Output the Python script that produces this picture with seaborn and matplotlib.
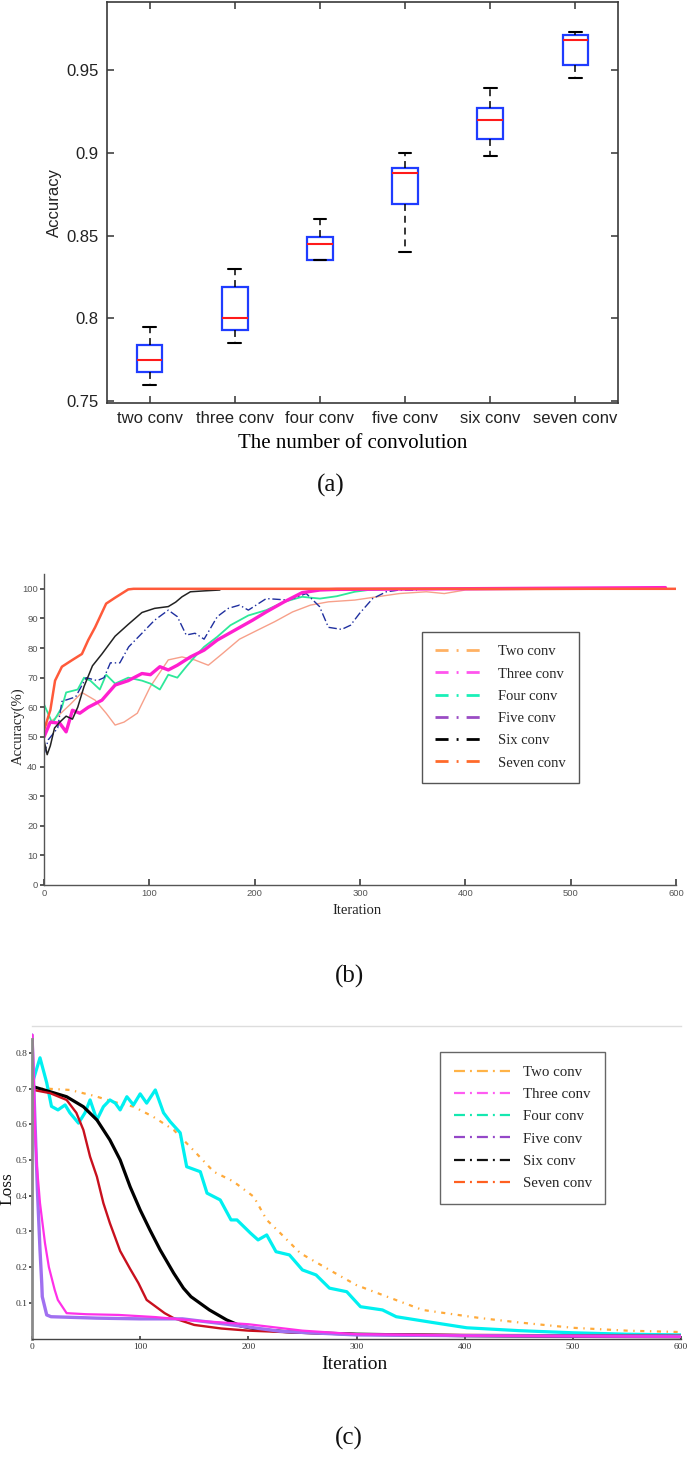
"""
Accuracy box plot (a), training accuracy curves (b) and loss curves (c)
for networks with two to seven convolution layers.
"""

import numpy as np
import pandas as pd
import matplotlib
matplotlib.use('Agg')
import matplotlib.pyplot as plt
from matplotlib.lines import Line2D
import seaborn as sns

# ---------------- panel (a): five-number summaries
CONV_NAMES = ['two conv', 'three conv', 'four conv', 'five conv', 'six conv', 'seven conv']
BOX_LOW = [0.760, 0.785, 0.835, 0.840, 0.898, 0.945]
BOX_Q1 = [0.768, 0.793, 0.835, 0.869, 0.9085, 0.9527]
BOX_MED = [0.775, 0.800, 0.845, 0.888, 0.920, 0.968]
BOX_Q3 = [0.784, 0.819, 0.849, 0.891, 0.927, 0.971]
BOX_HIGH = [0.795, 0.830, 0.860, 0.900, 0.939, 0.973]
ACC_TICKS = [0.75, 0.8, 0.85, 0.9, 0.95]
ACC_TICK_LABELS = ['0.75', '0.8', '0.85', '0.9', '0.95']

# ---------------- legend entries shared by (b) and (c)
LEGEND_LABELS = ['Two conv', 'Three conv', 'Four conv', 'Five conv', 'Six conv', 'Seven conv']
LEGEND_COLORS_B = ['#ffb163', '#ff55ee', '#19f0b8', '#9a4cc4', '#000000', '#ff6a2a']
LEGEND_COLORS_C = ['#ffb347', '#ff5cf2', '#15e8b0', '#9447c8', '#111111', '#ff6020']

ITER_TICKS = [0, 100, 200, 300, 400, 500, 600]

# ---------------- panel (b): accuracy (%) vs iteration
B_SALMON_X = [0, 13, 25, 36, 48.5, 59, 67.5, 76, 88.6, 101, 118, 131, 143, 156, 169, 185.6,
              202.5, 219, 236, 253, 270, 295, 316, 337.5, 363, 380, 400, 600]
B_SALMON_Y = [53.4, 57, 61, 65, 62.4, 58, 54, 55, 58, 67, 76, 77, 76, 74.2, 78, 83,
              86, 88.9, 92.2, 94.5, 95.6, 96.2, 97.3, 98.4, 99, 98.4, 99.6, 100]

B_MAGENTA_X = [0, 6, 15, 21, 27, 34, 42, 55, 67.5, 80, 93, 101, 110, 118, 126.6, 139, 152,
               164.5, 181, 198, 211, 228, 245, 262, 278, 590]
B_MAGENTA_Y = [50, 55, 54.6, 51.7, 59, 58, 60, 62.4, 67.5, 69, 71.4, 71, 73.7, 72.6, 74.2, 77,
               79.3, 82.7, 86, 89.4, 92.2, 95.6, 98.7, 99.6, 99.8, 100.4]

B_GREEN_X = [0, 8, 17, 21, 32, 38, 44, 53, 59, 67.5, 80, 93, 101, 110, 118, 126.6, 135, 143,
             152, 164.5, 177, 194, 211, 228, 245, 262, 278, 295, 308, 321]
B_GREEN_Y = [61, 54.6, 60, 65, 66, 70, 69, 66, 71, 68, 70, 69, 68, 66, 71, 70, 73.7, 77,
             80.4, 83.8, 87.7, 91, 92.8, 95.6, 97.3, 96.7, 97.5, 99, 99.6, 99.8]

B_BLUE_X = [0, 4, 13, 17, 30, 40, 50.6, 57, 63, 72, 80.4, 93, 105, 118, 126.6, 135, 143.4,
            152, 164.5, 175, 185.6, 194, 211, 232, 249, 261.6, 270, 282.6, 291, 299.6, 312,
            325, 337.5, 354]
B_BLUE_Y = [44, 49, 53, 62, 63.5, 70, 69, 70, 75, 75, 80.4, 85, 89.4, 92.8, 90.6, 84.4, 85,
            83, 90.6, 93.4, 94.5, 92.8, 96.7, 96.2, 98.4, 94, 87, 86.3, 87.7, 91.7, 96.7,
            99, 99.6, 99.6]

B_BLACK_X = [0, 3, 6, 10, 15, 21, 27, 32, 38, 46, 55, 67.5, 80, 93, 105, 118, 125, 131,
             139, 152, 167]
B_BLACK_Y = [49, 44, 47, 53, 55, 57, 56, 60, 67, 74, 78, 84, 88, 92, 93.4, 94, 95.5, 97.3,
             99, 99.3, 99.6]

B_RED_X = [0, 6, 10.5, 17, 27, 36, 42, 48.5, 59, 67.5, 80, 85, 600]
B_RED_Y = [52.3, 59, 69, 73.7, 76, 78, 82.7, 87, 95, 97, 99.8, 100, 100]

# ---------------- panel (c): loss vs iteration
C_ORANGE_X = [0, 16.7, 35, 58, 75, 94, 112, 131, 149, 168, 186, 205, 217, 226.6, 248, 275,
              299.6, 316, 340.7, 361, 382, 415, 450, 500, 550, 600]
C_ORANGE_Y = [0.70, 0.699, 0.696, 0.679, 0.663, 0.649, 0.621, 0.584, 0.528, 0.467, 0.44,
              0.397, 0.332, 0.304, 0.239, 0.192, 0.15, 0.131, 0.103, 0.08, 0.071, 0.057,
              0.045, 0.03, 0.022, 0.018]

C_CYAN_X = [0, 1.2, 7.4, 13.6, 18, 24, 30.6, 35, 43, 49, 53.7, 60, 66, 72, 77, 81.5, 87.7,
            93.8, 100, 106, 114, 121.6, 127.8, 137, 143, 155.6, 161.8, 174, 184, 189.5, 202,
            209, 217, 225.6, 238, 250, 262.6, 275, 291, 303.7, 324, 336.7, 370, 402, 450,
            500, 550, 600]
C_CYAN_Y = [0.70, 0.724, 0.786, 0.716, 0.65, 0.64, 0.654, 0.632, 0.603, 0.632, 0.668, 0.612,
            0.649, 0.668, 0.659, 0.64, 0.677, 0.654, 0.685, 0.659, 0.696, 0.632, 0.607, 0.576,
            0.481, 0.467, 0.407, 0.388, 0.332, 0.332, 0.295, 0.276, 0.29, 0.243, 0.234,
            0.192, 0.178, 0.141, 0.131, 0.089, 0.08, 0.061, 0.045, 0.03, 0.022, 0.016,
            0.012, 0.01]

C_BLACK_X = [0, 1.2, 16.7, 32, 47.5, 60, 72, 81.5, 90.7, 100, 109, 118.5, 131, 140, 147,
             164, 180, 193, 210, 240, 300, 400, 500, 600]
C_BLACK_Y = [0.70, 0.705, 0.691, 0.677, 0.649, 0.612, 0.556, 0.5, 0.425, 0.36, 0.304, 0.248,
             0.183, 0.141, 0.117, 0.08, 0.052, 0.035, 0.025, 0.018, 0.012, 0.008, 0.006, 0.005]

C_RED_X = [0, 1.2, 16.7, 32, 41, 47.5, 53.7, 60, 66, 72, 81.5, 90.7, 98.4, 106, 122.6, 131,
           150, 175, 200, 250, 300, 400, 600]
C_RED_Y = [0.69, 0.696, 0.687, 0.668, 0.632, 0.584, 0.509, 0.453, 0.379, 0.323, 0.245, 0.195,
           0.155, 0.108, 0.071, 0.057, 0.038, 0.028, 0.022, 0.016, 0.012, 0.01, 0.008]

C_MAGENTA_X = [0.5, 1.5, 2.8, 4.3, 7.4, 12, 15.6, 21, 23.9, 32, 50, 80, 114, 150, 200, 250,
               300, 400, 500, 600]
C_MAGENTA_Y = [0.85, 0.75, 0.584, 0.491, 0.379, 0.267, 0.2, 0.136, 0.108, 0.071, 0.068,
               0.066, 0.06, 0.05, 0.04, 0.022, 0.012, 0.008, 0.006, 0.005]

C_PURPLE_X = [0, 0.6, 2.8, 5, 7.4, 9, 9.5, 13.6, 17.6, 60, 100, 139, 180, 230, 300, 400, 600]
C_PURPLE_Y = [0.85, 0.8, 0.603, 0.416, 0.248, 0.155, 0.117, 0.066, 0.061, 0.057, 0.055,
              0.055, 0.04, 0.02, 0.01, 0.008, 0.006]

SERIF = ['Liberation Serif', 'DejaVu Serif']
SANS = ['Liberation Sans', 'DejaVu Sans']
NARROW = ['Liberation Sans Narrow', 'Liberation Sans', 'DejaVu Sans']

sns.set_theme(style='ticks')
plt.rcParams['font.family'] = SANS
plt.rcParams['lines.scale_dashes'] = False

W, H = 691, 1458
fig = plt.figure(figsize=(W / 100, H / 100), dpi=100)


def px_axes(left, top, right, bottom):
    """axes rectangle from pixel edges (origin top-left)"""
    return fig.add_axes([left / W, 1 - bottom / H, (right - left) / W, (bottom - top) / H])


def style_ticklabels(ax, family, size, color):
    for lbl in ax.get_xticklabels() + ax.get_yticklabels():
        lbl.set_fontfamily(family)
        lbl.set_fontsize(size)
        lbl.set_color(color)


# ======================= (a) box plot
ax_a = px_axes(107, 2, 618, 403)
box_df = pd.DataFrame({
    'conv': np.repeat(CONV_NAMES, 5),
    'acc': np.column_stack([BOX_LOW, BOX_Q1, BOX_MED, BOX_Q3, BOX_HIGH]).ravel(),
})
sns.boxplot(data=box_df, x='conv', y='acc', order=CONV_NAMES, ax=ax_a,
            width=0.3, whis=(0, 100), showfliers=False,
            color='white', linecolor='#1f3cff', linewidth=1.6,
            medianprops=dict(color='#ff1a1a', linewidth=1.5),
            whiskerprops=dict(color='black', linewidth=1.1, linestyle=(0, (5, 3.5))),
            capprops=dict(color='black', linewidth=1.5))
ax_a.set_xlim(-0.5, 5.5)
ax_a.set_ylim(0.749, 0.991)
ax_a.set_yticks(ACC_TICKS)
ax_a.set_yticklabels(ACC_TICK_LABELS)
ax_a.tick_params(direction='in', top=True, right=True, length=5, width=1.1,
                 color='#333333', pad=6)
for sp in ax_a.spines.values():
    sp.set_visible(True)
    sp.set_color('#3a3a3a')
    sp.set_linewidth(1.2)
style_ticklabels(ax_a, SANS, 12, '#222222')
ax_a.set_xlabel('The number of convolution', fontfamily=SERIF, fontsize=15, color='black')
ax_a.xaxis.set_label_coords(0.48, -0.078)
ax_a.set_ylabel('Accuracy', fontfamily=SANS, fontsize=12, color='#222222')
ax_a.yaxis.set_label_coords(-0.088, 0.5)

# ======================= (b) accuracy curves
ax_b = px_axes(44, 574, 676, 885)
b_series = [
    (B_SALMON_X, B_SALMON_Y, '#f7a08a', 1.0, '-'),
    (B_GREEN_X, B_GREEN_Y, '#2ee89a', 1.3, '-'),
    (B_BLUE_X, B_BLUE_Y, '#1f2f9f', 1.0, (0, (6, 2, 1, 2))),
    (B_MAGENTA_X, B_MAGENTA_Y, '#ff1fcf', 2.4, '-'),
    (B_BLACK_X, B_BLACK_Y, '#222222', 1.1, '-'),
    (B_RED_X, B_RED_Y, '#ff5a3a', 1.8, '-'),
]
for xs, ys, col, lw, ls in b_series:
    sns.lineplot(x=xs, y=ys, ax=ax_b, color=col, linewidth=lw, linestyle=ls,
                 estimator=None, sort=False, legend=False)
ax_b.set_xlim(0, 600)
ax_b.set_ylim(0, 105)
ax_b.set_xticks(ITER_TICKS)
ax_b.set_yticks(range(0, 101, 10))
ax_b.tick_params(axis='x', direction='in', length=4, pad=3, color='#444444')
ax_b.tick_params(axis='y', direction='out', length=3, pad=1.5, color='#444444')
ax_b.spines['top'].set_visible(False)
ax_b.spines['right'].set_visible(False)
for side in ['left', 'bottom']:
    ax_b.spines[side].set_color('#555555')
    ax_b.spines[side].set_linewidth(1.0)
style_ticklabels(ax_b, NARROW, 6.8, '#555555')
ax_b.set_xlabel('Iteration', fontfamily=SERIF, fontsize=10.5, color='#222222')
ax_b.xaxis.set_label_coords(0.495, -0.062)
ax_b.set_ylabel('Accuracy(%)', fontfamily=SERIF, fontsize=10.5, color='#222222')
ax_b.yaxis.set_label_coords(-0.03, 0.51)

handles_b = [Line2D([], [], color=c, linewidth=2.0, linestyle=(0, (9.4, 5.8, 1.4, 5.8)))
             for c in LEGEND_COLORS_B]
leg_b = ax_b.legend(handles_b, LEGEND_LABELS, loc='upper left', bbox_to_anchor=(0.598, 0.8135),
                    borderaxespad=0, fancybox=False, framealpha=1, edgecolor='#555555',
                    prop=dict(family=SERIF, size=10.5), handlelength=3.3, handletextpad=1.0,
                    labelspacing=0.62, borderpad=0.9)
leg_b.get_frame().set_linewidth(1.0)

# ======================= (c) loss curves
ax_c = px_axes(32, 1026, 681, 1338.5)
c_series = [
    (C_ORANGE_X, C_ORANGE_Y, '#ffaa3a', 1.6, (0, (3, 4, 1, 4))),
    (C_CYAN_X, C_CYAN_Y, '#00f0f0', 2.3, '-'),
    (C_BLACK_X, C_BLACK_Y, '#000000', 2.3, '-'),
    (C_RED_X, C_RED_Y, '#c8101e', 1.7, '-'),
    (C_PURPLE_X, C_PURPLE_Y, '#a070f0', 2.4, '-'),
    (C_MAGENTA_X, C_MAGENTA_Y, '#ff30e8', 1.6, '-'),
]
for xs, ys, col, lw, ls in c_series:
    sns.lineplot(x=xs, y=ys, ax=ax_c, color=col, linewidth=lw, linestyle=ls,
                 estimator=None, sort=False, legend=False)
ax_c.set_xlim(0, 600)
ax_c.set_ylim(0, 0.875)
ax_c.set_xticks(ITER_TICKS)
ax_c.set_yticks([0.1, 0.2, 0.3, 0.4, 0.5, 0.6, 0.7, 0.8])
ax_c.set_yticklabels(['0.1', '0.2', '0.3', '0.4', '0.5', '0.6', '0.7', '0.8'])
ax_c.tick_params(axis='x', direction='in', length=2, pad=3, color='#444444')
ax_c.tick_params(axis='y', direction='out', length=2.5, pad=1, color='#444444')
ax_c.spines['right'].set_visible(False)
ax_c.spines['top'].set_color('#dddddd')
ax_c.spines['top'].set_linewidth(1.0)
ax_c.spines['left'].set_color('#8a8a8a')
ax_c.spines['left'].set_linewidth(2.0)
ax_c.spines['left'].set_bounds(0, 0.84)
ax_c.spines['bottom'].set_color('#444444')
ax_c.spines['bottom'].set_linewidth(1.0)
style_ticklabels(ax_c, SERIF, 6.8, '#333333')
ax_c.set_xlabel('Iteration', fontfamily=SERIF, fontsize=14, color='#111111')
ax_c.xaxis.set_label_coords(0.496, -0.056)
ax_c.set_ylabel('Loss', fontfamily=SERIF, fontsize=12.5, color='#111111')
ax_c.yaxis.set_label_coords(-0.025, 0.48)

handles_c = [Line2D([], [], color=c, linewidth=1.6, linestyle=(0, (7.9, 3.6, 1.4, 3.6)))
             for c in LEGEND_COLORS_C]
leg_c = ax_c.legend(handles_c, LEGEND_LABELS, loc='upper left', bbox_to_anchor=(0.629, 0.917),
                    borderaxespad=0, fancybox=False, framealpha=1, edgecolor='#666666',
                    prop=dict(family=SERIF, size=10.7), handlelength=3.8, handletextpad=0.85,
                    labelspacing=0.6, borderpad=0.9)
leg_c.get_frame().set_linewidth(1.0)

# ======================= panel captions
for label, (cx, cy) in zip(['(a)', '(b)', '(c)'], [(331, 485), (349, 976), (349, 1438)]):
    fig.text(cx / W, 1 - cy / H, label, ha='center', va='center',
             fontfamily=SERIF, fontsize=18, color='#111111')

fig.savefig('out.png', dpi=100)
